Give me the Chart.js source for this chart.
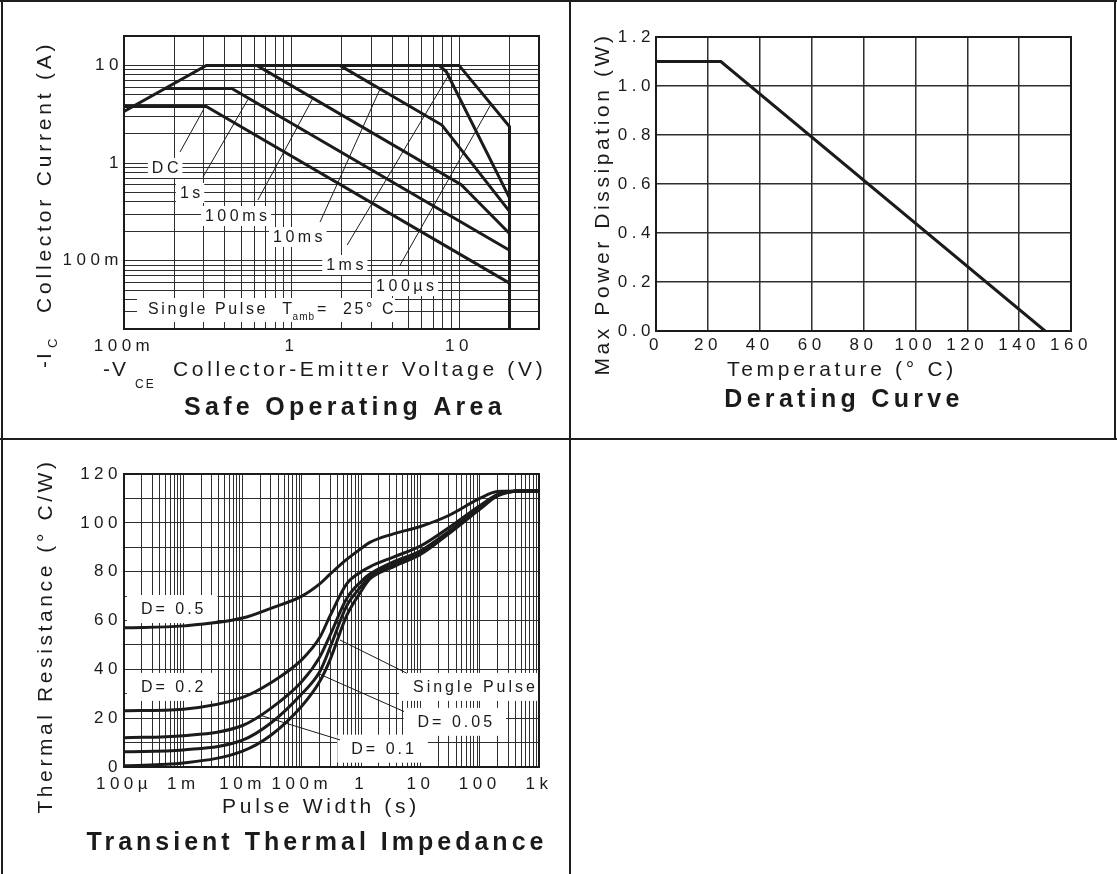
<!DOCTYPE html>
<html>
<head>
<meta charset="utf-8">
<script src="https://cdn.jsdelivr.net/npm/chart.js@4.4.1/dist/chart.umd.min.js"></script>
<style>
  body { margin: 0; background: #fff; width: 1117px; height: 874px; position: relative; overflow: hidden; }
  canvas { position: absolute; }
  .ln { position: absolute; background: #1e1e1e; }
</style>
</head>
<body>
<canvas id="soa" width="568" height="437" style="left:0;top:0"></canvas>
<canvas id="derate" width="543" height="437" style="left:572px;top:0"></canvas>
<canvas id="thermal" width="568" height="433" style="left:0;top:441px"></canvas>

<div class="ln" style="left:0;top:0;width:1117px;height:2px"></div>
<div class="ln" style="left:1px;top:0;width:2px;height:874px"></div>
<div class="ln" style="left:569px;top:0;width:2px;height:874px"></div>
<div class="ln" style="left:1114px;top:0;width:2px;height:440px"></div>
<div class="ln" style="left:0;top:438px;width:1117px;height:2px"></div>

<script>
const FONT = '"Liberation Sans", Arial, Helvetica, sans-serif';
const INK = '#1b1b1b';
const GRID = '#2e2e2e';

// ---- Safe Operating Area: -VCE (V) vs -IC (A) ----
const soaXTicks = [0.1, 1, 10];
const soaXLabels = ['100m', '1', '10'];
const soaYTicks = [0.1, 1, 10];
const soaYLabels = ['100m', '1', '10'];

const soaDcV = [0.1, 0.31, 20];
const soaDcA = [3.8, 3.8, 0.059];
const soa1sV = [0.174, 0.44, 20];
const soa1sA = [5.8, 5.8, 0.128];
const soa100msV = [0.62, 10.3, 20];
const soa100msA = [10, 0.6, 0.19];
const soa10msV = [1.94, 7.9, 20];
const soa10msA = [10, 2.45, 0.32];
const soa1msV = [7.6, 8.4, 20];
const soa1msA = [10, 8.6, 0.44];
const soa100usV = [0.1, 0.31, 10, 20, 20];
const soa100usA = [3.37, 10, 10, 2.37, 0.02];

// curve labels and their pointer lines
const soaLabelText = ['DC', '1s', '100ms', '10ms', '1ms', '100µs'];
const soaLabelV = [0.176, 0.248, 0.466, 1.09, 2.08, 4.76];
const soaLabelA = [0.891, 0.494, 0.287, 0.175, 0.0904, 0.0551];
const soaLeadV = [[0.216, 0.3], [0.296, 0.55], [0.63, 1.34], [1.48, 3.37], [2.15, 8.8], [4.44, 15.5]];
const soaLeadA = [[1.3, 3.6], [0.72, 4.5], [0.419, 4.6], [0.249, 5.7], [0.145, 8.3], [0.09, 4.0]];

// ---- Derating curve ----
const derTemp = [0, 25, 150];
const derPower = [1.1, 1.1, 0];

// ---- Transient thermal impedance ----
const thXTicks = [1e-4, 1e-3, 1e-2, 0.1, 1, 10, 100, 1000];
const thXLabels = ['100µ', '1m', '10m', '100m', '1', '10', '100', '1k'];
const thT =     [1e-4, 1e-3, 1e-2, 0.03, 0.1, 0.2, 0.3, 0.57, 1, 1.4, 3.5, 10, 30, 100, 200, 500, 1000];
const thD05 =   [57, 57.8, 61, 65, 70, 75, 79, 85, 89.5, 92, 95.5, 98.5, 103, 110, 112.8, 113, 113];
const thD02 =   [23, 23.7, 28.5, 34.5, 44, 53, 62, 75, 80, 82, 86, 90.5, 98, 107, 111.5, 113, 113];
const thD01 =   [12, 12.8, 17, 24, 35, 45, 54, 69, 76, 79, 84, 88.5, 96.5, 106.5, 111.5, 113, 113];
const thD005 =  [6.2, 7, 11, 18, 30, 39, 49, 66, 74, 78, 83, 87.5, 96, 106, 111.3, 113, 113];
const thSingle = [0.5, 1.6, 6.5, 13, 25, 35, 44, 62, 72, 77, 82, 87, 95.5, 105.5, 111, 113, 113];

const thLabelText = ['D= 0.5', 'D= 0.2', 'Single Pulse', 'D= 0.05', 'D= 0.1'];
const thLabelT = [6.5e-4, 6.5e-4, 80, 38, 2.3];
const thLabelR = [64.7, 32.8, 32.8, 18.5, 7.5];
const thLeadT = [[0.44, 5.9], [0.2, 5.3], [0.021, 0.44]];
const thLeadR = [[52, 38.4], [38, 22.7], [21, 11.1]];

// helpers
const pts = (xs, ys) => xs.map((x, i) => ({ x: x, y: ys[i] }));

function logTicks(min, max) {
  const out = [];
  for (let e = Math.floor(Math.log10(min)) - 1; e <= Math.ceil(Math.log10(max)); e++) {
    for (let m = 1; m < 10; m++) {
      const v = Number((m * Math.pow(10, e)).toPrecision(3));
      if (v >= min * 0.9999 && v <= max * 1.0001) out.push(v);
    }
  }
  return out;
}
const labelFor = (vals, labels) => (v) => {
  const i = vals.findIndex(t => Math.abs(t - v) / t < 1e-6);
  return i < 0 ? '' : labels[i];
};

function tickFont() { return { family: FONT, size: 17 }; }

function logAxis(min, max, vals, labels, fit, pad) {
  return {
    type: 'logarithmic', min: min, max: max,
    afterBuildTicks: (s) => { s.ticks = logTicks(min, max).map(v => ({ value: v })); },
    afterFit: fit,
    ticks: { autoSkip: false, maxRotation: 0, padding: pad, callback: labelFor(vals, labels), color: INK, font: tickFont() },
    grid: { color: GRID, lineWidth: 1, drawTicks: false },
    border: { color: INK, width: 2 }
  };
}
const fitX = (s) => { s.height = 30; };
const fitY = (s) => { s.width = 60; };

function line(data, w, smooth) {
  return {
    data: data, showLine: true, borderColor: INK, borderWidth: w, pointRadius: 0,
    fill: false, cubicInterpolationMode: smooth ? 'monotone' : 'default', tension: 0
  };
}

function text(ctx, s, x, y, size, opts) {
  opts = opts || {};
  ctx.save();
  ctx.font = (opts.bold ? 'bold ' : '') + size + 'px ' + FONT;
  ctx.letterSpacing = (opts.sp || 0) + 'px';
  ctx.fillStyle = INK;
  ctx.textAlign = opts.align || 'left';
  ctx.textBaseline = 'middle';
  ctx.translate(x, y);
  if (opts.rot) ctx.rotate(opts.rot);
  ctx.fillText(s, 0, 0);
  const w = ctx.measureText(s).width;
  ctx.restore();
  return w;
}

function boxLabel(ctx, s, cx, cy, size, sp, padX, padY) {
  ctx.save();
  ctx.font = size + 'px ' + FONT;
  ctx.letterSpacing = sp + 'px';
  const w = ctx.measureText(s).width - sp;
  ctx.fillStyle = '#fff';
  ctx.fillRect(cx - w / 2 - padX, cy - size / 2 - padY, w + 2 * padX, size + 2 * padY);
  ctx.fillStyle = INK;
  ctx.textAlign = 'left';
  ctx.textBaseline = 'middle';
  ctx.fillText(s, cx - w / 2, cy + 1);
  ctx.restore();
}

function frame(c) {
  const a = c.chartArea, ctx = c.ctx;
  ctx.save();
  ctx.strokeStyle = INK;
  ctx.lineWidth = 2;
  ctx.strokeRect(a.left, a.top, a.right - a.left, a.bottom - a.top);
  ctx.restore();
}

const spacing = { id: 'spacing', beforeDraw(c) { c.ctx.letterSpacing = '4.5px'; } };
const baseOpts = {
  responsive: false, animation: false, devicePixelRatio: 1,
  plugins: { legend: { display: false }, tooltip: { enabled: false } }
};

// ---------- Safe Operating Area ----------
const soaNotes = {
  id: 'soaNotes',
  beforeDatasetsDraw(c) {
    const x = c.scales.x, y = c.scales.y, ctx = c.ctx;
    soaLabelText.forEach((t, i) => {
      boxLabel(ctx, t, x.getPixelForValue(soaLabelV[i]), y.getPixelForValue(soaLabelA[i]), 16, 3.5, 4, 2);
    });
    // single pulse note
    const lx = x.getPixelForValue(0.139), ly = y.getPixelForValue(0.0313);
    ctx.save();
    ctx.fillStyle = '#fff';
    ctx.fillRect(lx - 11, ly - 12, 258, 24);
    ctx.restore();
    let cx = lx;
    cx += text(ctx, 'Single Pulse  T', cx, ly, 16, { sp: 2.6 });
    cx += text(ctx, 'amb', cx - 2, ly + 7, 10, { sp: 1 });
    text(ctx, '=  25° C', cx, ly, 16, { sp: 2.6 });
  },
  afterDraw(c) {
    const ctx = c.ctx;
    frame(c);
    // y title, rotated
    ctx.save();
    ctx.translate(45, 368);
    ctx.rotate(-Math.PI / 2);
    text(ctx, '-I', 0, 0, 21, { sp: 2 });
    text(ctx, 'C', 20, 8, 13, { sp: 1 });
    text(ctx, 'Collector Current (A)', 55, 0, 21, { sp: 3.8 });
    ctx.restore();
    // x title
    text(ctx, '-V', 103, 370, 21, { sp: 2 });
    text(ctx, 'CE', 135, 385, 12, { sp: 2 });
    text(ctx, 'Collector-Emitter Voltage (V)', 173, 370, 21, { sp: 3.7 });
    text(ctx, 'Safe Operating Area', 345, 408, 25, { bold: true, sp: 4.3, align: 'center' });
  }
};

const soaSets = [
  line(pts(soaDcV, soaDcA), 3), line(pts(soa1sV, soa1sA), 3),
  line(pts(soa100msV, soa100msA), 3), line(pts(soa10msV, soa10msA), 3),
  line(pts(soa1msV, soa1msA), 3), line(pts(soa100usV, soa100usA), 3)
].concat(soaLeadV.map((v, i) => line(pts(v, soaLeadA[i]), 1)));

new Chart(document.getElementById('soa'), {
  type: 'scatter',
  data: { datasets: soaSets },
  options: Object.assign({}, baseOpts, {
    layout: { padding: { left: 64, top: 36, right: 29, bottom: 78 } },
    scales: {
      x: logAxis(0.1, 30, soaXTicks, soaXLabels, fitX, 7),
      y: logAxis(0.02, 20, soaYTicks, soaYLabels, fitY, 1)
    }
  }),
  plugins: [spacing, soaNotes]
});

// ---------- Derating curve ----------
const derNotes = {
  id: 'derNotes',
  afterDraw(c) {
    const ctx = c.ctx;
    frame(c);
    text(ctx, 'Max Power Dissipation (W)', 31, 204, 21, { sp: 3.6, align: 'center', rot: -Math.PI / 2 });
    text(ctx, 'Temperature (° C)', 270, 370, 21, { sp: 3.7, align: 'center' });
    text(ctx, 'Derating Curve', 272, 400, 25, { bold: true, sp: 4.3, align: 'center' });
  }
};

new Chart(document.getElementById('derate'), {
  type: 'scatter',
  data: { datasets: [line(pts(derTemp, derPower), 3)] },
  options: Object.assign({}, baseOpts, {
    layout: { padding: { left: 24, top: 37, right: 44, bottom: 76 } },
    scales: {
      x: {
        type: 'linear', min: 0, max: 160, afterFit: fitX,
        ticks: { stepSize: 20, maxRotation: 0, padding: 4, color: INK, font: tickFont() },
        grid: { color: GRID, lineWidth: 1.5, drawTicks: false },
        border: { color: INK, width: 2 }
      },
      y: {
        type: 'linear', min: 0, max: 1.2, afterFit: fitY,
        ticks: { stepSize: 0.2, padding: 1, color: INK, font: tickFont(), callback: v => v.toFixed(1) },
        grid: { color: GRID, lineWidth: 1.5, drawTicks: false },
        border: { color: INK, width: 2 }
      }
    }
  }),
  plugins: [spacing, derNotes]
});

// ---------- Transient thermal impedance ----------
const thNotes = {
  id: 'thNotes',
  beforeDatasetsDraw(c) {
    const x = c.scales.x, y = c.scales.y, ctx = c.ctx;
    thLabelText.forEach((t, i) => {
      boxLabel(ctx, t, x.getPixelForValue(thLabelT[i]), y.getPixelForValue(thLabelR[i]), 16, 3, 14, 6);
    });
  },
  afterDraw(c) {
    const ctx = c.ctx;
    frame(c);
    text(ctx, 'Thermal Resistance (° C/W)', 46, 195, 21, { sp: 3.6, align: 'center', rot: -Math.PI / 2 });
    text(ctx, 'Pulse Width (s)', 321, 366, 21, { sp: 3.7, align: 'center' });
    text(ctx, 'Transient Thermal Impedance', 317, 402, 25, { bold: true, sp: 4, align: 'center' });
  }
};

const thSets = [
  line(pts(thT, thD05), 3, true), line(pts(thT, thD02), 3, true),
  line(pts(thT, thD01), 3, true), line(pts(thT, thD005), 3, true),
  line(pts(thT, thSingle), 3, true)
].concat(thLeadT.map((t, i) => line(pts(t, thLeadR[i]), 1)));

new Chart(document.getElementById('thermal'), {
  type: 'scatter',
  data: { datasets: thSets },
  options: Object.assign({}, baseOpts, {
    layout: { padding: { left: 64, top: 33, right: 29, bottom: 77 } },
    scales: {
      x: logAxis(1e-4, 1000, thXTicks, thXLabels, fitX, 7),
      y: {
        type: 'linear', min: 0, max: 120, afterFit: fitY,
        ticks: { stepSize: 10, autoSkip: false, padding: 2, color: INK, font: tickFont(),
                 callback: v => (v % 20 === 0 ? String(v) : '') },
        grid: { color: GRID, lineWidth: 1, drawTicks: false },
        border: { color: INK, width: 2 }
      }
    }
  }),
  plugins: [spacing, thNotes]
});
</script>
</body>
</html>
